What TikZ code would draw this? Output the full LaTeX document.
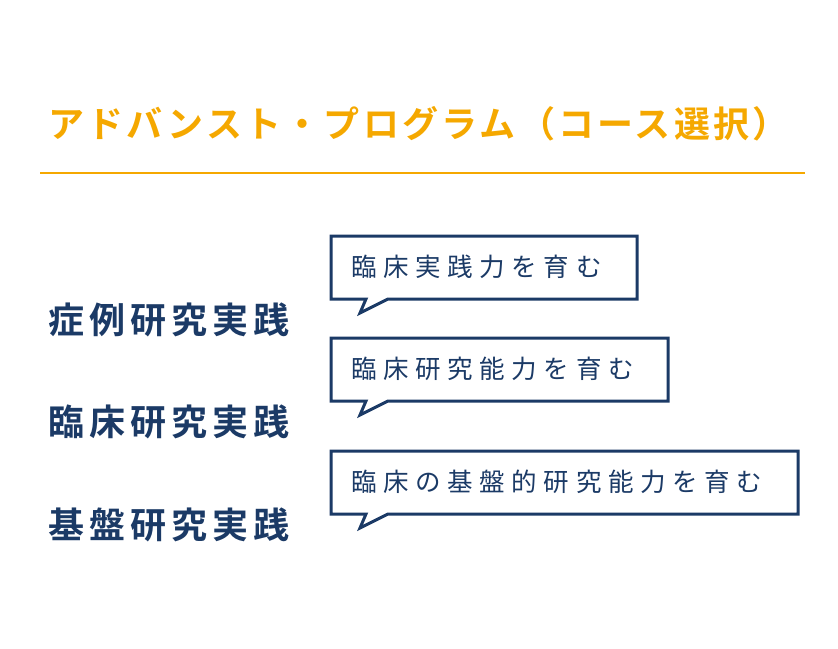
\documentclass[tikz,border=0pt]{standalone}
\usepackage{fontspec}
\newfontfamily\jptitle[LetterSpace=9]{Noto Sans CJK JP Bold}
\newfontfamily\jpbold[LetterSpace=14]{Noto Sans CJK JP Bold}
\newfontfamily\jpsmall[LetterSpace=26]{Noto Sans CJK JP}
\usetikzlibrary{positioning}
\definecolor{navy}{HTML}{1B3A66}
\definecolor{amber}{HTML}{F5A800}
\begin{document}
\begin{tikzpicture}[x=1pt, y=-1pt,
    % styles
    heading/.style={anchor=west, inner sep=0pt, text=amber, font=\jptitle\fontsize{36}{36}\selectfont},
    field/.style={anchor=west, inner sep=0pt, text=navy, font=\jpbold\fontsize{36}{36}\selectfont},
    bubble/.style={anchor=west, inner sep=0pt, text=navy, font=\jpsmall\fontsize{25.5}{25.5}\selectfont},
    frame/.style={draw=navy, line width=3pt, fill=white, line join=miter}
]
\useasboundingbox (0,0) rectangle (838,648);

% heading
\node [heading] (title) at (48,124) {アドバンスト・プログラム（コース選択）};
\draw [amber, line width=2pt] (40,173) -- (805,173);

% left column
\node [field] (case) at (48,320) {症例研究実践};
\node [field] (clin) at (48,422) {臨床研究実践};
\node [field] (base) at (48,525) {基盤研究実践};

% callouts
\foreach \top/\right/\name in {236/637/one, 338/668/two, 451/798/three}{
  \draw [frame] (331,\top) -- (\right,\top) -- (\right,\top+63) -- (388,\top+63)
        -- (360,\top+77) -- (366,\top+63) -- (331,\top+63) -- cycle;
  \coordinate (\name) at (351,\top+31);
}
\node [bubble] (skill) at (one) {臨床実践力を育む};
\node [bubble] (research) at (two) {臨床研究能力を育む};
\node [bubble] (basic) at (three) {臨床の基盤的研究能力を育む};
\end{tikzpicture}
\end{document}
